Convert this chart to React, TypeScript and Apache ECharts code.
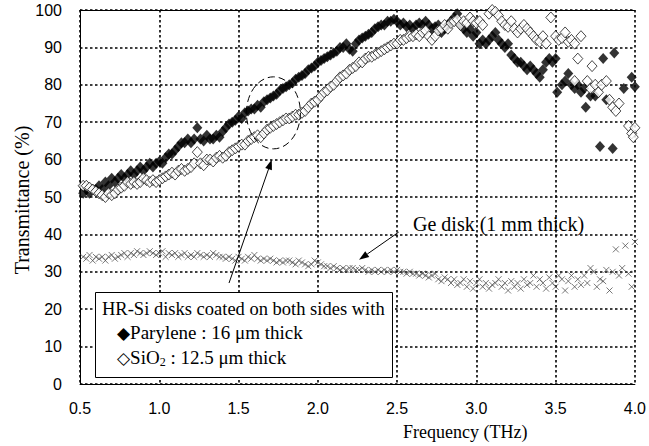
import React, { useEffect, useRef } from "react";
import * as echarts from "echarts";

// Frequency (THz), Transmittance (%)
const parylene: [number, number][] = [
  [0.52, 51], [0.54, 52], [0.56, 51], [0.58, 52], [0.6, 52], [0.62, 53], [0.64, 52], [0.66, 54],
  [0.68, 53], [0.7, 55], [0.72, 54], [0.74, 55], [0.76, 56], [0.78, 55], [0.8, 56], [0.82, 57],
  [0.84, 56], [0.86, 57], [0.88, 58], [0.9, 57], [0.92, 58], [0.94, 59], [0.96, 58], [0.98, 59],
  [1.0, 59.5], [1.02, 59], [1.04, 60.5], [1.06, 61.5], [1.08, 61.5], [1.1, 62.5], [1.12, 63.5], [1.14, 64.5],
  [1.16, 64.5], [1.18, 65.5], [1.2, 64.5], [1.22, 65.5], [1.24, 68.5], [1.26, 65.5], [1.28, 65], [1.3, 66.5],
  [1.32, 65.5], [1.34, 65.5], [1.36, 66.5], [1.38, 66], [1.4, 67.5], [1.42, 68.5], [1.44, 69.5], [1.46, 70],
  [1.48, 70.5], [1.5, 71.5], [1.52, 71], [1.54, 72.5], [1.56, 73], [1.58, 73.5], [1.6, 73.5], [1.62, 74.5],
  [1.64, 74], [1.66, 75.5], [1.68, 76], [1.7, 76.5], [1.72, 77], [1.74, 77.5], [1.76, 78.5], [1.78, 79],
  [1.8, 79.5], [1.82, 80], [1.84, 80.5], [1.86, 81.5], [1.88, 82], [1.9, 82.5], [1.92, 83], [1.94, 84],
  [1.96, 84.5], [1.98, 85], [2.0, 86], [2.02, 86.5], [2.04, 87], [2.06, 87.5], [2.08, 88], [2.1, 88.5],
  [2.12, 89], [2.14, 90], [2.16, 90], [2.18, 91], [2.2, 89.5], [2.22, 89], [2.24, 91], [2.26, 92],
  [2.28, 92.5], [2.3, 93], [2.32, 93.5], [2.34, 94], [2.36, 95], [2.38, 95.5], [2.4, 96], [2.42, 96],
  [2.44, 97], [2.46, 97], [2.48, 97.5], [2.5, 97], [2.52, 96], [2.54, 96.5], [2.56, 95.5], [2.58, 96],
  [2.6, 95], [2.62, 96], [2.64, 96.5], [2.66, 96], [2.68, 97], [2.7, 96], [2.72, 95], [2.74, 95.5],
  [2.76, 96], [2.78, 94], [2.8, 95], [2.82, 96], [2.84, 97], [2.86, 98], [2.88, 99], [2.9, 96],
  [2.92, 95], [2.94, 94], [2.96, 95], [2.98, 93], [3.0, 94], [3.02, 91], [3.04, 92], [3.06, 91],
  [3.08, 92], [3.1, 93], [3.12, 94], [3.14, 92], [3.16, 91], [3.18, 90], [3.2, 91], [3.22, 88],
  [3.24, 87], [3.26, 86], [3.28, 86], [3.3, 85], [3.32, 84], [3.34, 85], [3.36, 84], [3.38, 83],
  [3.4, 82], [3.42, 84], [3.44, 86], [3.46, 87], [3.48, 86], [3.5, 87], [3.51, 78], [3.54, 80],
  [3.56, 81], [3.58, 83], [3.6, 80], [3.62, 79], [3.64, 80], [3.66, 78], [3.68, 79], [3.69, 74],
  [3.72, 77], [3.75, 77], [3.78, 63.5], [3.8, 87], [3.82, 76], [3.86, 63], [3.87, 88.5], [3.93, 79],
  [3.98, 82], [4.0, 79.5],
];

const sio2: [number, number][] = [
  [0.52, 53], [0.54, 53], [0.56, 52.5], [0.58, 52], [0.6, 51.5], [0.62, 51], [0.64, 50.5], [0.66, 50],
  [0.68, 51], [0.7, 50.5], [0.72, 51], [0.74, 52], [0.76, 52.5], [0.78, 53], [0.8, 54], [0.82, 53.5],
  [0.84, 54], [0.86, 53.5], [0.88, 54], [0.9, 55], [0.92, 54.5], [0.94, 54], [0.96, 54.5], [0.98, 54],
  [1.0, 54.5], [1.02, 55], [1.04, 55.5], [1.06, 56], [1.08, 56.5], [1.1, 56], [1.12, 57], [1.14, 57.5],
  [1.16, 57], [1.18, 57.5], [1.2, 58], [1.22, 59], [1.24, 62], [1.26, 59], [1.28, 58.5], [1.3, 60],
  [1.32, 60], [1.34, 59.5], [1.36, 60.5], [1.38, 61], [1.4, 60.5], [1.42, 61], [1.44, 62], [1.46, 62.5],
  [1.48, 63], [1.5, 63.5], [1.52, 64], [1.54, 64], [1.56, 65], [1.58, 65.5], [1.6, 66], [1.62, 66.5],
  [1.64, 66], [1.66, 67], [1.68, 68], [1.7, 68.5], [1.72, 69], [1.74, 69.5], [1.76, 70], [1.78, 70.5],
  [1.8, 71], [1.82, 71], [1.84, 71.5], [1.86, 72], [1.88, 72], [1.9, 72.5], [1.92, 73], [1.94, 74],
  [1.96, 75], [1.98, 75.5], [2.0, 76], [2.02, 77], [2.04, 78], [2.06, 78.5], [2.08, 79.5], [2.1, 80],
  [2.12, 81], [2.14, 82], [2.16, 82.5], [2.18, 83], [2.2, 84], [2.22, 84.5], [2.24, 85], [2.26, 86],
  [2.28, 86], [2.3, 87], [2.32, 87.5], [2.34, 87.5], [2.36, 88], [2.38, 88.5], [2.4, 89], [2.42, 89.5],
  [2.44, 90], [2.46, 90.5], [2.48, 91], [2.5, 91], [2.52, 92], [2.54, 92], [2.56, 92.5], [2.58, 93],
  [2.6, 93], [2.62, 93.5], [2.64, 93], [2.66, 94], [2.68, 94.5], [2.7, 93], [2.72, 92], [2.74, 93],
  [2.76, 94.5], [2.78, 95], [2.8, 96], [2.82, 95], [2.84, 96.5], [2.86, 97], [2.88, 97.5], [2.9, 96],
  [2.92, 97], [2.94, 96.5], [2.96, 98], [2.98, 97], [3.0, 96.5], [3.02, 97], [3.04, 96], [3.08, 99],
  [3.1, 100], [3.12, 99.5], [3.14, 98.5], [3.16, 97], [3.18, 96], [3.2, 95.5], [3.22, 97], [3.24, 95],
  [3.26, 94], [3.28, 95], [3.3, 96], [3.32, 95], [3.34, 94], [3.36, 93], [3.38, 92], [3.4, 91.5],
  [3.42, 93], [3.44, 91], [3.47, 98], [3.5, 93], [3.52, 92], [3.54, 92.5], [3.56, 94], [3.58, 91.5],
  [3.6, 92], [3.62, 91], [3.64, 87], [3.66, 93], [3.62, 81], [3.7, 81], [3.72, 79], [3.73, 85],
  [3.75, 80], [3.77, 78], [3.79, 80], [3.82, 81], [3.84, 76], [3.86, 74], [3.88, 73], [3.9, 75],
  [3.96, 69], [3.98, 67], [4.0, 68.5], [3.99, 66],
];

const germanium: [number, number][] = [
  [0.52, 34], [0.54, 33.5], [0.56, 34.5], [0.58, 33], [0.6, 34], [0.62, 33.5], [0.64, 34], [0.66, 33],
  [0.68, 34], [0.7, 34.5], [0.72, 33.5], [0.74, 34], [0.76, 34.5], [0.78, 35], [0.8, 34], [0.82, 35],
  [0.84, 34.5], [0.86, 35.5], [0.88, 35], [0.9, 34.5], [0.92, 35], [0.94, 35.5], [0.96, 35], [0.98, 34.5],
  [1.0, 35], [1.02, 35.5], [1.04, 34], [1.06, 35], [1.08, 34.5], [1.1, 35], [1.12, 34], [1.14, 34.5],
  [1.16, 35], [1.18, 34], [1.2, 34.5], [1.22, 34], [1.24, 35], [1.26, 34.5], [1.28, 34], [1.3, 34.5],
  [1.32, 34], [1.34, 35], [1.36, 34.5], [1.38, 34], [1.4, 34], [1.42, 33.5], [1.44, 34], [1.46, 33.5],
  [1.48, 33], [1.5, 34], [1.52, 33.5], [1.54, 33], [1.56, 34], [1.58, 33.5], [1.6, 34.5], [1.62, 33.5],
  [1.64, 33], [1.66, 33.5], [1.68, 33], [1.7, 33.5], [1.72, 33], [1.74, 32.5], [1.76, 33], [1.78, 32.5],
  [1.8, 33], [1.82, 33], [1.84, 32.5], [1.86, 32], [1.88, 33], [1.9, 32.5], [1.92, 32], [1.94, 31.5],
  [1.96, 32], [1.98, 33], [2.0, 32.5], [2.02, 32], [2.04, 31.5], [2.06, 31.5], [2.08, 31], [2.1, 31.5],
  [2.12, 31], [2.14, 30.5], [2.16, 31], [2.18, 30.5], [2.2, 31], [2.22, 31], [2.24, 30.5], [2.26, 30.5],
  [2.28, 31], [2.3, 30.5], [2.32, 30], [2.34, 30.5], [2.36, 30], [2.38, 30.5], [2.4, 30], [2.42, 30.5],
  [2.44, 30], [2.46, 30.5], [2.48, 30], [2.5, 30.5], [2.52, 30], [2.54, 30], [2.56, 29.5], [2.58, 30],
  [2.6, 29.5], [2.62, 29.5], [2.64, 29], [2.66, 29.5], [2.68, 29], [2.7, 28.5], [2.72, 29], [2.74, 29.5],
  [2.76, 28], [2.78, 27.5], [2.8, 28.5], [2.82, 28], [2.84, 27], [2.86, 28], [2.88, 26.5], [2.9, 27],
  [2.92, 28], [2.94, 26], [2.96, 27.5], [2.98, 25.5], [3.0, 27], [3.02, 28], [3.04, 26], [3.06, 27],
  [3.08, 25.5], [3.1, 26.5], [3.12, 27], [3.14, 28], [3.16, 26], [3.18, 27], [3.2, 25], [3.22, 27.5],
  [3.24, 26], [3.26, 27], [3.28, 25.5], [3.3, 28], [3.32, 26.5], [3.34, 27], [3.36, 29], [3.38, 26],
  [3.4, 28], [3.42, 27], [3.44, 25.5], [3.46, 28.5], [3.48, 27], [3.5, 26], [3.52, 29], [3.54, 28],
  [3.56, 25], [3.58, 27.5], [3.6, 29], [3.62, 26], [3.64, 28], [3.66, 26.5], [3.68, 29], [3.7, 27],
  [3.72, 31], [3.74, 30], [3.76, 26], [3.78, 28], [3.8, 27.5], [3.82, 30.5], [3.84, 25], [3.86, 30],
  [3.88, 36], [3.9, 29], [3.92, 31], [3.94, 37], [3.96, 29.5], [3.98, 26], [4.0, 38],
];

// annotation anchors in data units
const arrowSi: [number, number][] = [[1.44, 27], [1.71, 60]];
const arrowGe: [number, number][] = [[2.51, 40.6], [2.26, 33.2]];
const circleCenter: [number, number] = [1.72, 72.5];

const serif = "'Liberation Serif', 'Times New Roman', serif";
const sans = "'Liberation Sans', Arial, sans-serif";

export default function App() {
  const ref = useRef<HTMLDivElement>(null);
  useEffect(() => {
    const chart = echarts.init(ref.current!, null, { renderer: "svg" });
    const gridLine = { show: true, lineStyle: { color: "#000", width: 1.6, type: [2.5, 2.5] } };
    chart.setOption({
      animation: false,
      backgroundColor: "#fff",
      grid: { left: 80, right: 9, top: 10, bottom: 62 },
      xAxis: [
        {
          type: "value", min: 0.5, max: 4.0, interval: 0.5,
          axisLine: { show: true, lineStyle: { color: "#000", width: 1 } },
          axisTick: { show: false },
          axisLabel: { color: "#000", fontFamily: sans, fontSize: 16, margin: 16, formatter: (v: number) => v.toFixed(1) },
          splitLine: gridLine,
        },
        {
          type: "value", min: 0.5, max: 4.0, interval: 0.5, position: "top",
          axisLine: { show: true, lineStyle: { color: "#000", width: 1 } },
          axisTick: { show: false }, axisLabel: { show: false }, splitLine: { show: false },
        },
      ],
      yAxis: {
        type: "value", min: 0, max: 100, interval: 10,
        axisLine: { show: true, lineStyle: { color: "#000", width: 1 } },
        axisTick: { show: false },
        axisLabel: { color: "#000", fontFamily: sans, fontSize: 16, margin: 18 },
        splitLine: gridLine,
      },
      series: [
        {
          name: "Ge disk (1 mm thick)", type: "scatter", data: germanium,
          symbol: "path://M0,0L10,10M10,0L0,10", symbolSize: 6,
          itemStyle: { color: "rgba(0,0,0,0)", borderColor: "#444", borderWidth: 0.9 },
        },
        {
          name: "Parylene : 16 μm thick", type: "scatter", data: parylene,
          symbol: "diamond", symbolSize: [10, 11],
          itemStyle: { color: "#000" },
        },
        {
          name: "SiO2 : 12.5 μm thick", type: "scatter", data: sio2,
          symbol: "diamond", symbolSize: [10, 11],
          itemStyle: { color: "#fff", borderColor: "#000", borderWidth: 0.9 },
        },
      ],
    });

    const px = (p: [number, number]) => chart.convertToPixel({ gridIndex: 0 }, p) as number[];
    const arrow = (pts: [number, number][]) => {
      const a = px(pts[0]);
      const b = px(pts[1]);
      const dx = b[0] - a[0], dy = b[1] - a[1];
      const len = Math.hypot(dx, dy);
      const ux = dx / len, uy = dy / len;
      const hl = 10, hw = 3.5;
      const bx = b[0] - ux * hl, by = b[1] - uy * hl;
      return [
        { type: "line", shape: { x1: a[0], y1: a[1], x2: bx, y2: by }, style: { stroke: "#000", lineWidth: 1 }, z: 100 },
        {
          type: "polygon",
          shape: { points: [[b[0], b[1]], [bx - uy * hw, by + ux * hw], [bx + uy * hw, by - ux * hw]] },
          style: { fill: "#000" }, z: 100,
        },
      ];
    };
    const c = px(circleCenter);
    chart.setOption({
      graphic: [
        { type: "ellipse", shape: { cx: c[0], cy: c[1], rx: 27, ry: 36 }, style: { fill: "none", stroke: "#000", lineWidth: 1, lineDash: [7, 4] }, z: 100 },
        ...arrow(arrowSi),
        ...arrow(arrowGe),
        {
          type: "text", left: 413, top: 214, z: 100,
          style: { text: "Ge disk (1 mm thick)", fontFamily: serif, fontSize: 20, fill: "#000" },
        },
        {
          type: "rect", shape: { x: 95.5, y: 292.5, width: 297, height: 85 },
          style: { fill: "#fff", stroke: "#000", lineWidth: 1 }, z: 110,
        },
        {
          type: "text", left: 102, top: 299, z: 111,
          style: { text: "HR-Si disks coated on both sides with", fontFamily: serif, fontSize: 18.5, fill: "#000" },
        },
        {
          type: "text", left: 117, top: 323, z: 111,
          style: {
            text: "{d|◆}{n|Parylene : 16 μm thick}",
            rich: {
              d: { fontFamily: "'DejaVu Sans'", fontSize: 17, fill: "#000" },
              n: { fontFamily: serif, fontSize: 19, fill: "#000" },
            },
          },
        },
        {
          type: "text", left: 117, top: 348, z: 111,
          style: {
            text: "{d|◇}{n|SiO}{s|2}{n| : 12.5 μm thick}",
            rich: {
              d: { fontFamily: "'DejaVu Sans'", fontSize: 17, fill: "#000" },
              n: { fontFamily: serif, fontSize: 19, fill: "#000" },
              s: { fontFamily: serif, fontSize: 12, fill: "#000", verticalAlign: "bottom", padding: [8, 0, 0, 0] },
            },
          },
        },
        {
          type: "text", left: 403, top: 423, z: 100,
          style: { text: "Frequency (THz)", fontFamily: serif, fontSize: 18, fill: "#000" },
        },
        {
          type: "text", x: 22, y: 200, rotation: Math.PI / 2, z: 100,
          style: { text: "Transmittance (%)", fontFamily: serif, fontSize: 20, fill: "#000", align: "center", verticalAlign: "middle" },
        },
      ],
    });
    return () => chart.dispose();
  }, []);
  return <div ref={ref} style={{ position: "fixed", left: 0, top: 0, width: 649, height: 446 }} />;
}
